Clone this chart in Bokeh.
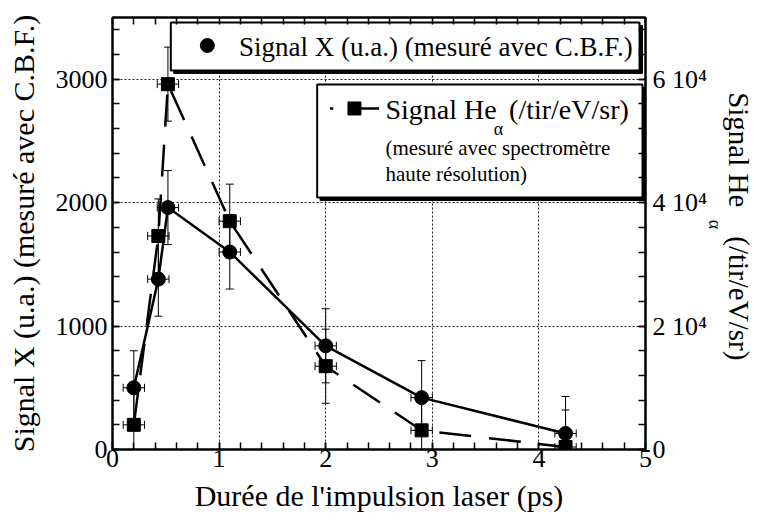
from bokeh.plotting import figure
from bokeh.models import (Range1d, LinearAxis, FixedTicker, Whisker, ColumnDataSource, TeeHead)
from bokeh.core.properties import value
from bokeh.embed import file_html
from bokeh.resources import INLINE

# ---- data ----
duration_x = [0.2, 0.43, 0.52, 1.1, 2.0, 2.9, 4.25]
signal_x = [500, 1380, 1960, 1600, 840, 420, 130]
signal_x_err = [300, 300, 300, 300, 300, 300, 300]

duration_he = [0.2, 0.43, 0.52, 1.1, 2.0, 2.9, 4.25]
signal_he = [4000, 34600, 59200, 37000, 13500, 3100, 400]
signal_he_err = [6000, 6000, 6000, 6000, 6000, 6000, 6000]

duration_err = [0.1, 0.1, 0.1, 0.1, 0.1, 0.1, 0.1]

x_ticks = [0, 1, 2, 3, 4, 5]
x_minor = [round(i * 0.2, 1) for i in range(26)]
y_ticks = [0, 1000, 2000, 3000]
y_minor = [i * 200 for i in range(18)]
he_ticks = [0, 20000, 40000, 60000]
he_minor = [i * 4000 for i in range(18)]
he_tick_labels = ["0", "2 10\u2074", "4 10\u2074", "6 10\u2074"]

legend_x_label = "Signal X (u.a.) (mesuré avec C.B.F.)"
legend_he_label = "Signal He"
legend_he_sub = "α"
legend_he_unit = "(/tir/eV/sr)"
legend_he_note1 = "(mesuré avec spectromètre"
legend_he_note2 = "haute résolution)"
x_title = "Durée de l'impulsion laser (ps)"
y_title = "Signal X (u.a.) (mesuré avec C.B.F.)"
y2_title = "Signal He\u2003(/tir/eV/sr)\u2002"
y2_sub = "α\u2003"

FONT = "'Liberation Serif', 'Times New Roman', Times, serif"

p = figure(width=757, height=520, x_range=Range1d(0, 5), y_range=Range1d(0, 3500),
           output_backend="svg", toolbar_location=None,
           min_border_left=112, min_border_right=106, min_border_top=17, min_border_bottom=71)
p.extra_y_ranges = {"he": Range1d(0, 70000)}
p.outline_line_color = "black"
p.outline_line_width = 2
p.background_fill_color = "white"
p.border_fill_color = "white"

xaxis_b = p.below[0]
yaxis_l = p.left[0]

# grids
p.xgrid.ticker = FixedTicker(ticks=x_ticks)
p.ygrid.ticker = FixedTicker(ticks=y_ticks)
for g in (p.xgrid, p.ygrid):
    g.grid_line_color = "black"
    g.grid_line_dash = "2 2"
    g.grid_line_width = 1
    g.grid_line_alpha = 0.9

right_axis = LinearAxis(y_range_name="he")
title_axis = LinearAxis(y_range_name="he")
top_axis = LinearAxis()
p.add_layout(right_axis, "right")
p.add_layout(title_axis, "right")
p.add_layout(top_axis, "above")

def style_axis(ax, ticks, minor):
    ax.ticker = FixedTicker(ticks=ticks, minor_ticks=minor)
    ax.axis_line_width = 2
    ax.axis_line_color = "black"
    ax.major_tick_in = 7
    ax.major_tick_out = 0
    ax.minor_tick_in = 7
    ax.minor_tick_out = 0
    ax.major_tick_line_width = 1.5
    ax.minor_tick_line_width = 1.5
    ax.major_label_text_font = FONT
    ax.major_label_text_font_size = "26px"
    ax.major_label_text_color = "black"
    ax.axis_label_text_font = FONT
    ax.axis_label_text_font_style = "normal"
    ax.axis_label_text_font_size = "30px"
    ax.axis_label_text_color = "black"

style_axis(xaxis_b, x_ticks, x_minor)
style_axis(yaxis_l, y_ticks, y_minor)
style_axis(right_axis, he_ticks, he_minor)
# top axis: tick marks only
style_axis(top_axis, [], x_minor)
top_axis.major_label_standoff = 0

xaxis_b.axis_label = x_title
xaxis_b.major_label_standoff = 0
xaxis_b.axis_label_standoff = 9
yaxis_l.axis_label = y_title
yaxis_l.major_label_standoff = 5
yaxis_l.axis_label_standoff = 13

right_axis.major_label_overrides = {t: lab for t, lab in zip(he_ticks, he_tick_labels)}
right_axis.major_label_standoff = 7
right_axis.axis_label = y2_sub
right_axis.axis_label_text_font_size = "18px"
right_axis.axis_label_standoff = -5

style_axis(title_axis, [], [])
title_axis.axis_line_color = None
title_axis.major_tick_in = 0
title_axis.minor_tick_in = 0
title_axis.major_label_standoff = 0
title_axis.axis_label = y2_title
title_axis.axis_label_text_font_size = "29px"
title_axis.axis_label_standoff = -6

# ---- data series ----
src_x = ColumnDataSource(dict(
    x=duration_x, y=signal_x,
    lo=[v - e for v, e in zip(signal_x, signal_x_err)],
    hi=[v + e for v, e in zip(signal_x, signal_x_err)],
    xl=[v - e for v, e in zip(duration_x, duration_err)],
    xh=[v + e for v, e in zip(duration_x, duration_err)]))
src_he = ColumnDataSource(dict(
    x=duration_he, y=signal_he,
    lo=[v - e for v, e in zip(signal_he, signal_he_err)],
    hi=[v + e for v, e in zip(signal_he, signal_he_err)],
    xl=[v - e for v, e in zip(duration_he, duration_err)],
    xh=[v + e for v, e in zip(duration_he, duration_err)]))

p.line("x", "y", source=src_x, line_color="black", line_width=2.5)
p.line("x", "y", source=src_he, y_range_name="he", line_color="black", line_width=2.5,
       line_dash="32 18")

def whiskers(src, rng):
    kw = {} if rng is None else {"y_range_name": rng}
    for dim, base, up, lo in (("height", "x", "hi", "lo"), ("width", "y", "xh", "xl")):
        w = Whisker(base=base, upper=up, lower=lo, source=src, dimension=dim,
                    line_width=1, line_color="black",
                    upper_head=TeeHead(size=8, line_width=1, line_color="black"),
                    lower_head=TeeHead(size=8, line_width=1, line_color="black"), **kw)
        p.add_layout(w)

whiskers(src_x, None)
whiskers(src_he, "he")

p.scatter("x", "y", source=src_x, marker="circle", size=14, fill_color="black", line_color="black")
p.scatter("x", "y", source=src_he, y_range_name="he", marker="square", size=13,
          fill_color="black", line_color="black")

# ---- legend boxes (drawn) ----
dx = 3 / 107.8      # 3 px shadow in data units
dy = 3 / 432 * 3500
def box(l, r, t, b):
    p.quad(left=[l + dx], right=[r + dx], top=[t - dy], bottom=[b - dy],
           fill_color="black", line_color="black")
    p.quad(left=[l], right=[r], top=[t], bottom=[b], fill_color="white",
           line_color="black", line_width=2)

box(0.547, 4.944, 3459, 3071)
box(1.92, 4.972, 2957, 2042)

def txt(x, y, s, size, align="left"):
    p.text(x=[x], y=[y], text=[s], text_font=value(FONT), text_font_size=size,
           text_baseline="middle", text_align=align, text_color="black")

# legend 1
p.scatter(x=[0.89], y=[3273], marker="circle", size=14, fill_color="black", line_color="black")
txt(1.187, 3265, legend_x_label, "27px")

# legend 2
p.segment(x0=[2.04], y0=[2763], x1=[2.07], y1=[2763], line_color="black", line_width=2.5)
p.segment(x0=[2.27], y0=[2763], x1=[2.50], y1=[2763], line_color="black", line_width=2.5)
p.scatter(x=[2.27], y=[2763], marker="square", size=13, fill_color="black", line_color="black")
txt(2.56, 2755, legend_he_label, "28px")
txt(3.62, 2593, legend_he_sub, "18px", "center")
txt(3.72, 2755, legend_he_unit, "28px")
txt(2.56, 2439, legend_he_note1, "21px")
txt(2.56, 2236, legend_he_note2, "21px")

open("out.html", "w").write(file_html(p, INLINE))
